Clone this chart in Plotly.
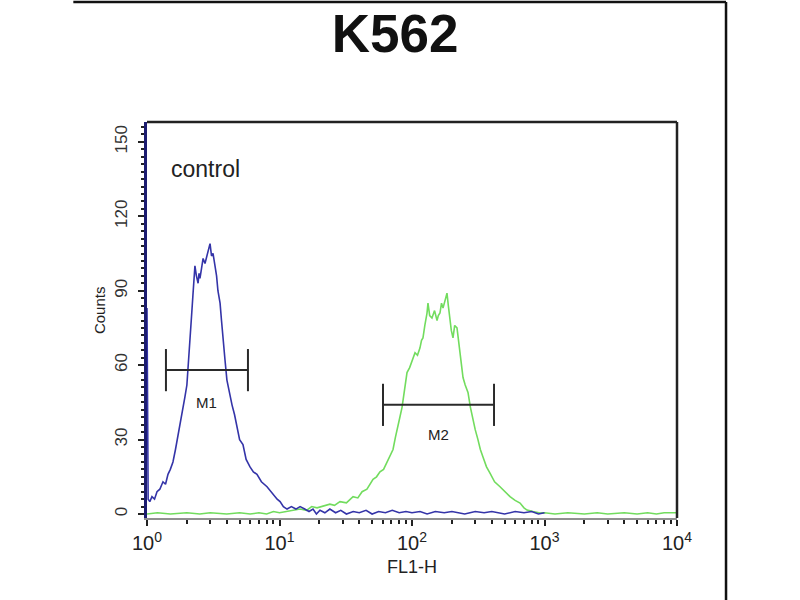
import numpy as np
import plotly.graph_objects as go

# control histogram (blue), FL1-H channel value vs counts
blue_x = [1.00, 1.02, 1.05, 1.09, 1.14, 1.19, 1.25, 1.32, 1.38, 1.44, 1.50, 1.57, 1.64, 1.71,
          1.78, 1.87, 1.93, 2.00, 2.05, 2.11, 2.17, 2.22, 2.26, 2.30, 2.36, 2.43, 2.47, 2.51,
          2.58, 2.65, 2.74, 2.82, 2.89, 2.99, 3.07, 3.15, 3.26, 3.35, 3.43, 3.56, 3.65, 3.75,
          3.88, 4.01, 4.20, 4.38, 4.58, 4.78, 5.00, 5.30, 5.60, 5.99, 6.35, 6.76, 7.30, 8.05,
          8.90, 9.60, 10.1, 10.7, 11.4, 12.3, 13.3, 14.3, 15.5, 16.7, 17.9, 19.0, 20.2, 22,
          24, 26.5, 29, 32, 36, 40, 45, 50, 56, 63, 71, 80, 90, 100, 115, 130, 150, 175, 200,
          250, 300, 350, 400, 500, 600, 700, 800, 900, 1000]
blue_y = [83, 6, 5, 7, 6, 9, 10, 13, 12, 16, 18, 21, 26, 31,
          37, 42, 47, 52, 62, 73, 80, 88, 94, 100, 96, 93, 97, 95,
          99, 103, 101, 104, 106, 109, 104, 105, 100, 96, 90, 85, 78, 72,
          62, 54, 48, 44, 40, 35, 30, 28, 22, 19, 17, 16, 13, 11,
          8, 6, 5, 3, 2, 3, 2, 3, 2, 1, 2, 0, 1.5, 0.5,
          2, 0.5, 1.5, 0, 1, 0.5, 1.5, 0, 1, 0.5, 1.5, 0.5, 1, 0.5, 1, 0, 1, 0.5, 1,
          0, 1, 0.5, 1, 0, 1, 0.5, 1, 0, 0.5]

# stained sample histogram (green)
green_x = [1.0, 1.2, 1.5, 2, 2.5, 3, 4, 5, 6, 7, 8, 9, 10, 11.4, 12.5, 14.3, 16, 17.5, 19.2,
           21, 24, 26, 28.6, 32, 35.9, 39, 42, 45.7, 48, 50.8, 54, 57.3, 61, 64.7, 68, 71.9,
           75, 78.4, 81, 84.1, 86, 88.6, 91.7, 96, 100, 105.4, 110, 114.9, 118, 121, 125,
           129.8, 132, 136, 141.5, 148, 154.5, 158, 162.6, 167, 171.4, 177, 183.7, 188,
           193.6, 198, 203.9, 210, 218.6, 224, 230.3, 236, 242.7, 252, 264.6, 276, 288.5,
           300, 314.6, 328, 343.3, 365, 387.8, 420, 461.6, 500, 549.3, 600, 653.8, 700, 738,
           820, 925, 1000, 1200, 1500, 2000, 2500, 3000, 4000, 5000, 6000, 7000, 8000, 10000]
green_y = [0, 0.5, 0, 0.5, 0, 0.5, 0, 0.5, 0, 0.5, 0, 1, 0.5, 1, 1.5, 2, 1.5, 3, 2.5,
           3, 4, 3.5, 5, 4.5, 7, 6.5, 9, 10, 12, 14, 15, 17, 18, 21, 23, 26,
           31, 35, 39, 43, 47, 50, 57, 59, 62, 65, 64, 67, 70, 71, 76,
           81, 85, 80, 79, 82, 78, 80, 81, 85, 83, 86, 89, 84,
           78, 74, 71, 76, 75, 70, 65, 60, 55, 52, 49, 43, 38,
           34, 30, 26, 23, 19, 16.5, 13, 11, 9, 7, 5.5, 4.4, 2.5, 1.6,
           1, 0.4, 0.5, 0, 0.5, 0, 0.5, 0, 0.5, 0, 0.5, 0, 0.5, 0.5]

# marker gates
gate_names = ["M1", "M2"]
gate_lo = [1.39, 60.4]
gate_hi = [5.78, 416]
gate_level = [58, 44]
gate_cap = 8.5
gate_label_y = [45, 32]

x_tickvals = [1, 10, 100, 1000, 10000]
x_ticktext = ["10<sup>0</sup>", "10<sup>1</sup>", "10<sup>2</sup>", "10<sup>3</sup>", "10<sup>4</sup>"]
x_minor = [m * 10 ** d for d in range(4) for m in range(2, 10)]
y_tickvals = [0, 30, 60, 90, 120, 150]

FONT = "Liberation Sans, Arial, sans-serif"

fig = go.Figure()
fig.add_trace(go.Scatter(x=green_x, y=green_y, mode="lines",
                         line=dict(color="#72dc5e", width=1.6), hoverinfo="skip"))
fig.add_trace(go.Scatter(x=blue_x, y=blue_y, mode="lines",
                         line=dict(color="#3434a8", width=1.6), hoverinfo="skip"))

for name, lo, hi, lev, ly in zip(gate_names, gate_lo, gate_hi, gate_level, gate_label_y):
    fig.add_trace(go.Scatter(
        x=[lo, lo, None, lo, hi, None, hi, hi],
        y=[lev - gate_cap, lev + gate_cap, None, lev, lev, None, lev - gate_cap, lev + gate_cap],
        mode="lines", line=dict(color="#2a2a2a", width=2), hoverinfo="skip"))
    fig.add_annotation(x=np.log10(np.sqrt(lo * hi)), y=ly, text=name, showarrow=False,
                       xanchor="center", yanchor="middle",
                       font=dict(family=FONT, size=15, color="#222222"))

fig.add_annotation(x=np.log10(2.74), y=139, text="control", showarrow=False,
                   xanchor="center", yanchor="middle",
                   font=dict(family=FONT, size=23, color="#222222"))

# axis titles
fig.add_annotation(xref="paper", yref="paper", x=-0.0906, y=0.525, text="Counts",
                   textangle=-90, showarrow=False, xanchor="center", yanchor="middle",
                   font=dict(family=FONT, size=15, color="#222222"))
fig.add_annotation(xref="paper", yref="paper", x=0.5, y=-0.124, text="FL1-H",
                   showarrow=False, xanchor="center", yanchor="middle",
                   font=dict(family=FONT, size=18, color="#222222"))

# plot frame top/right and outer picture frame
fig.add_shape(type="line", xref="paper", yref="paper", x0=0, x1=1, y0=1, y1=1,
              line=dict(color="#222222", width=2.5))
fig.add_shape(type="line", xref="paper", yref="paper", x0=1, x1=1, y0=0, y1=1,
              line=dict(color="#222222", width=2.5))
fig.add_shape(type="line", xref="paper", yref="paper", x0=-0.139, x1=1.0925, y0=1.303, y1=1.303,
              line=dict(color="#111111", width=2.5))
fig.add_shape(type="line", xref="paper", yref="paper", x0=1.0925, x1=1.0925, y0=1.303, y1=-0.21,
              line=dict(color="#111111", width=2.5))

fig.update_layout(
    width=800, height=600,
    margin=dict(l=147, r=123, t=122, b=82),
    paper_bgcolor="white", plot_bgcolor="white",
    showlegend=False,
    title=dict(text="K562", x=0.494, xanchor="center", y=0.945, yanchor="middle",
               font=dict(family=FONT, size=53, color="#111111", weight="bold")),
    xaxis=dict(type="log", range=[0, 4], showgrid=False, zeroline=False,
               showline=True, linecolor="#909090", linewidth=2,
               tickvals=x_tickvals, ticktext=x_ticktext,
               ticks="outside", ticklen=6, tickwidth=2, tickcolor="#222222",
               minor=dict(tickvals=x_minor, ticks="outside", ticklen=4, tickwidth=2,
                          tickcolor="#222222"),
               tickfont=dict(family=FONT, size=20, color="#222222")),
    yaxis=dict(range=[-1.6, 158], showgrid=False, zeroline=False,
               showline=True, linecolor="#1c1c70", linewidth=3,
               tickvals=y_tickvals, tickangle=-90, ticklabelstandoff=4,
               ticks="outside", ticklen=6, tickwidth=2, tickcolor="#222222",
               minor=dict(dtick=3, ticks="outside", ticklen=3, tickwidth=1.5,
                          tickcolor="#222222"),
               tickfont=dict(family=FONT, size=17, color="#333333")),
)

# drop the default page margin so the figure sits at the window corner
fig.write_html("out.html", config={"displayModeBar": False},
               post_script="document.body.style.margin='0px';")
